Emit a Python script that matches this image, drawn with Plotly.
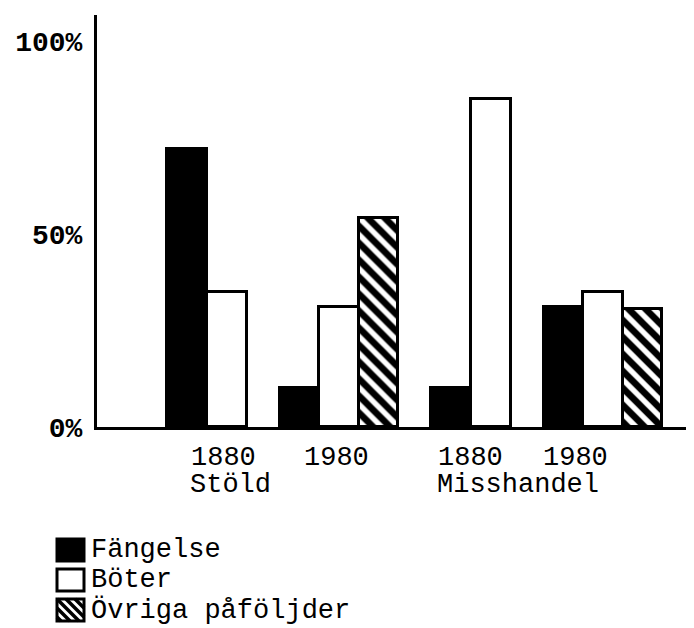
import plotly.graph_objects as go

# ---- data ----
groups = ["Stöld 1880", "Stöld 1980", "Misshandel 1880", "Misshandel 1980"]
year_labels = ["1880", "1980", "1880", "1980"]
crime_labels = ["Stöld", "Misshandel"]
series_names = ["Fängelse", "Böter", "Övriga påföljder"]
fangelse = [72, 10, 10, 31]
boter = [35, 31, 85, 35]
ovriga = [None, 54, None, 30.5]
y_tickvals = [0, 50, 100]
y_ticktext = ["0%", "50%", "100%"]

FONT = "Liberation Mono, Courier New, monospace"
FS = 27
series_vals = [fangelse, boter, ovriga]
styles = [
    dict(color="black", line=dict(color="black", width=3)),
    dict(color="white", line=dict(color="black", width=3)),
    dict(color="white", line=dict(color="black", width=3),
         pattern=dict(shape="\\", fgcolor="black", bgcolor="white", size=12,
                      solidity=0.55, fgopacity=1)),
]

# figure geometry (page body adds an 8px offset, so figure is 686x620)
FIG_W, FIG_H = 686, 620
L, R, T, B = 89, 0, 7, 201
plot_w = FIG_W - L - R
plot_h = FIG_H - T - B

W = 0.30
fig = go.Figure()
for si, (name, vals) in enumerate(zip(series_names, series_vals)):
    xs, ys, offs = [], [], []
    for gi, v in enumerate(vals):
        if v is None:
            continue
        present = [k for k in range(len(series_vals)) if series_vals[k][gi] is not None]
        n = len(present)
        start = -n * W / 2
        offs.append(start + present.index(si) * W)
        xs.append(gi)
        ys.append(v)
    fig.add_trace(go.Bar(x=xs, y=ys, offset=offs, width=W, name=name,
                         marker=styles[si], showlegend=False))

fig.update_layout(
    width=FIG_W, height=FIG_H,
    margin=dict(l=L, r=R, t=T, b=B, pad=0, autoexpand=False),
    paper_bgcolor="white", plot_bgcolor="white",
    font=dict(family=FONT, size=FS, color="black"),
    bargap=0,
)
fig.update_xaxes(range=[-0.833, 3.69], showline=True, linewidth=3, linecolor="black",
                 showgrid=False, zeroline=False, showticklabels=False, ticks="",
                 automargin=False)
fig.update_yaxes(range=[0, 106.7], showline=True, linewidth=3, linecolor="black",
                 showgrid=False, zeroline=False, tickvals=y_tickvals, ticktext=y_ticktext,
                 ticks="", ticklabelstandoff=6, automargin=False,
                 tickfont=dict(family=FONT, size=28, color="black", weight="bold"))

# x labels: years
year_shift = [17, -2, 0, -27]
for gi, lab in enumerate(year_labels):
    fig.add_annotation(x=gi, y=0, xref="x", yref="paper", text=lab, showarrow=False,
                       xanchor="center", yanchor="middle", yshift=-31, xshift=year_shift[gi],
                       font=dict(family=FONT, size=FS, color="black"))
# crime labels, left aligned with first year of each pair
for ci, lab in enumerate(crime_labels):
    gi = ci * 2
    fig.add_annotation(x=gi, y=0, xref="x", yref="paper", text=lab, showarrow=False,
                       xanchor="left", yanchor="middle", yshift=-58,
                       xshift=year_shift[gi] - 36,
                       font=dict(family=FONT, size=FS, color="black"))

# manual legend (figure pixel positions converted to paper coordinates)
def px(xf, yf):
    return (xf - L) / plot_w, (FIG_H - B - yf) / plot_h

sw_x0, sw_x1 = 49, 76
for i, name in enumerate(series_names):
    yc = 542 + i * 30
    y0, y1 = yc - 11, yc + 11
    ax0, ay0 = px(sw_x0, y1)
    ax1, ay1 = px(sw_x1, y0)
    fill = "black" if i == 0 else "white"
    fig.add_shape(type="rect", xref="paper", yref="paper", x0=ax0, y0=ay0, x1=ax1, y1=ay1,
                  fillcolor=fill, line=dict(color="black", width=3), layer="above")
    if i == 2:
        # diagonal hatch "\" inside swatch
        w, h = sw_x1 - sw_x0, y1 - y0
        for c in range(-h + 4, w, 9):
            # line: x = sw_x0 + c + t, y = y0 + t, t in [0, h]
            t0 = max(0, -c)
            t1 = min(h, w - c)
            if t1 - t0 < 2:
                continue
            p0 = px(sw_x0 + c + t0, y0 + t0)
            p1 = px(sw_x0 + c + t1, y0 + t1)
            fig.add_shape(type="line", xref="paper", yref="paper",
                          x0=p0[0], y0=p0[1], x1=p1[0], y1=p1[1],
                          line=dict(color="black", width=3.5), layer="above")
    tx, ty = px(81, yc)
    fig.add_annotation(x=tx, y=ty, xref="paper", yref="paper", text=name,
                       showarrow=False, xanchor="left", yanchor="middle",
                       font=dict(family=FONT, size=FS, color="black"))

fig.write_html("out.html")
